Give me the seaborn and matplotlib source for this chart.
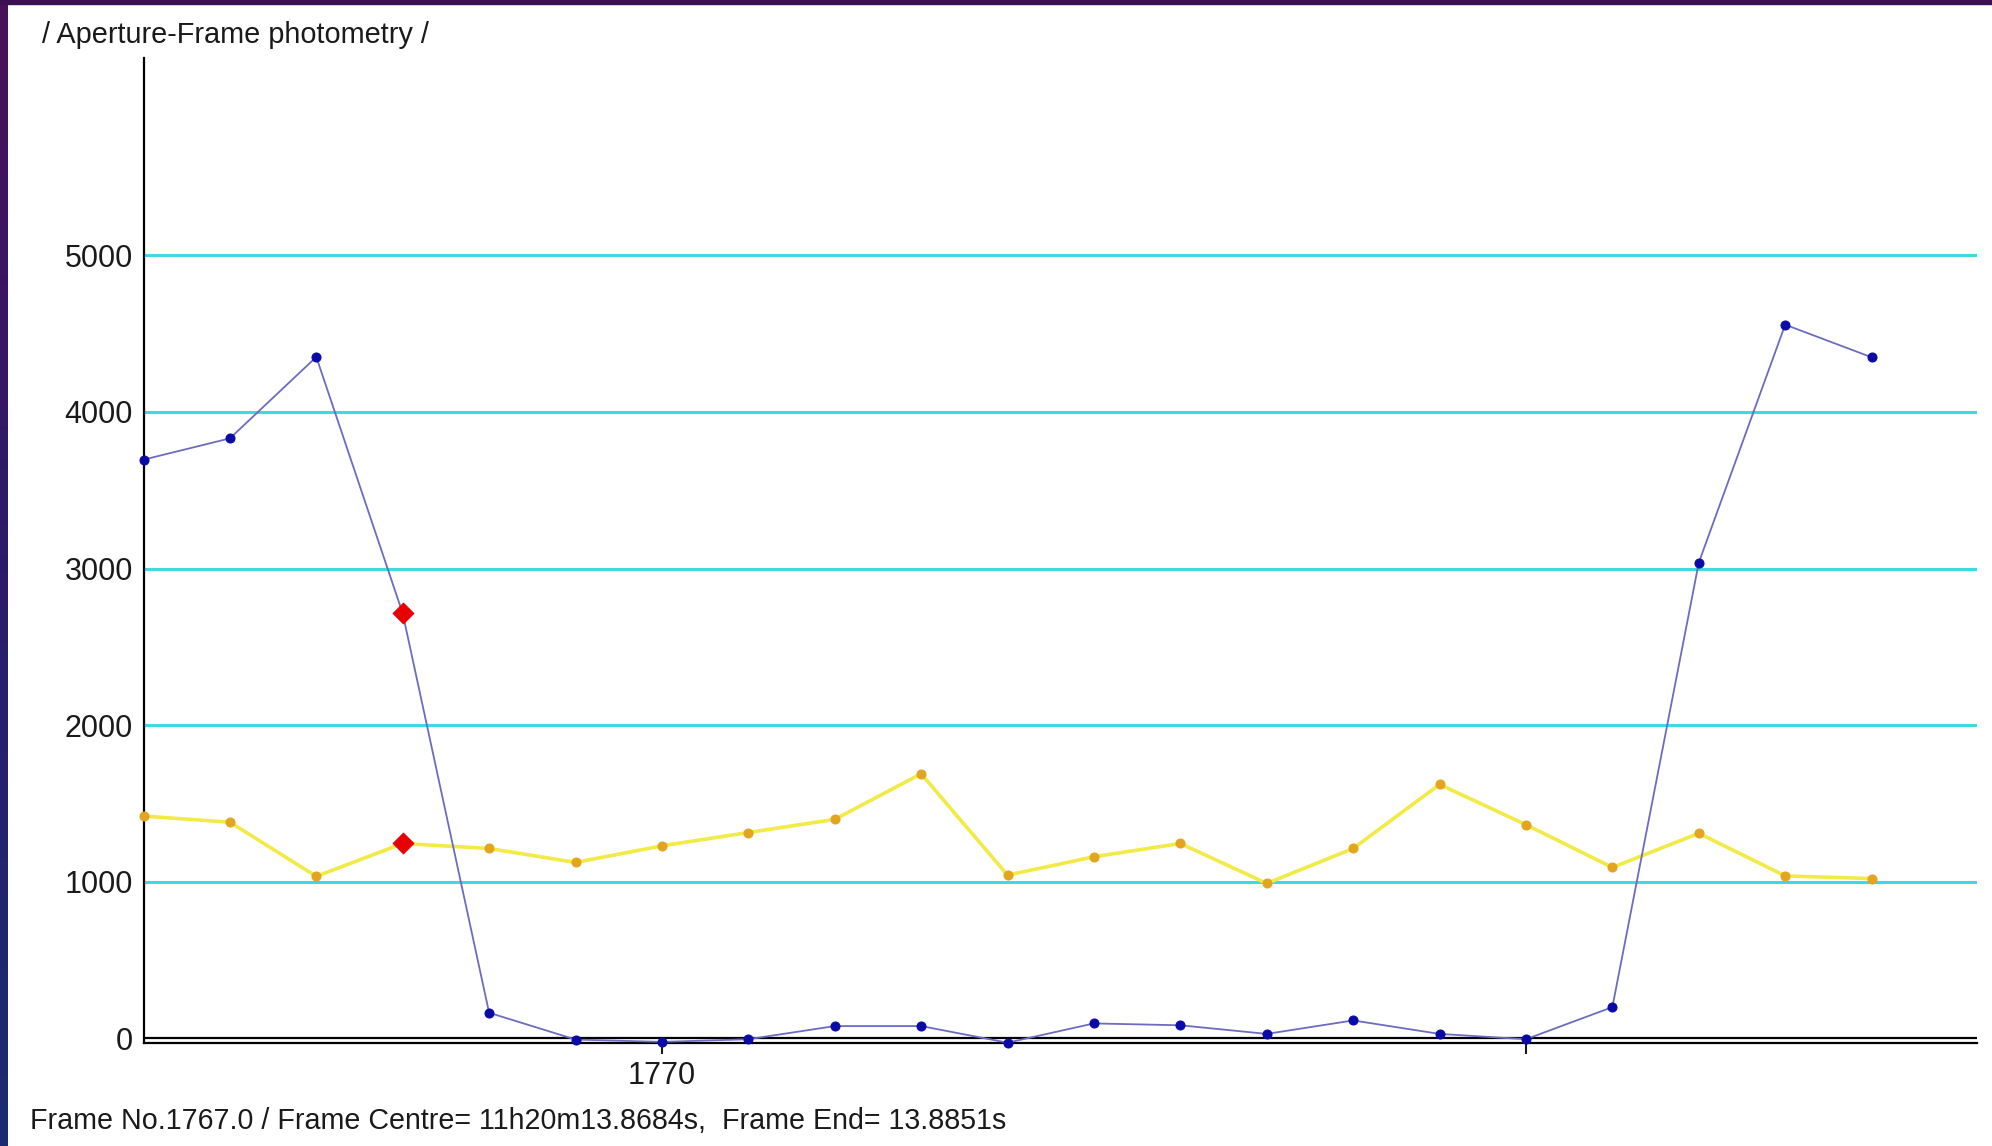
import numpy as np
import pandas as pd
import seaborn as sns
import matplotlib.pyplot as plt
from matplotlib.patches import Rectangle
from matplotlib.colors import LinearSegmentedColormap

# frame numbers and the two photometry series
frames = list(range(1764, 1785))
star_flux = [3695, 3831, 4351, 2713, 163, -8, -23, -6, 78, 78, -28,
             95, 83, 28, 114, 28, -6, 199, 3037, 4557, 4349]
comp_flux = [1419, 1380, 1034, 1244, 1212, 1123, 1229, 1314, 1398, 1689, 1042,
             1159, 1244, 989, 1212, 1621, 1364, 1091, 1309, 1037, 1020]
current_frame = 1767
grid_levels = [1000, 2000, 3000, 4000, 5000]
y_ticks = [0, 1000, 2000, 3000, 4000, 5000]
x_ticks = [1770, 1780]
x_tick_labels = ['1770', '']

title = '/ Aperture-Frame photometry /'
footer = 'Frame No.1767.0 / Frame Centre= 11h20m13.8684s,  Frame End= 13.8851s'

df = pd.DataFrame({'frame': frames, 'star': star_flux, 'comp': comp_flux})
cur = df[df['frame'] == current_frame]

sns.set_style('white')
plt.rcParams['font.family'] = ['Liberation Sans', 'DejaVu Sans']

W, H = 1992, 1146
fig = plt.figure(figsize=(W / 100, H / 100), dpi=100)
fig.patch.set_facecolor('white')

# window frame decoration (purple/blue border)
edge = fig.add_axes([0, 0, 8 / W, 1])
cmap = LinearSegmentedColormap.from_list('edge', ['#4a1058', '#2b1c68', '#1b2c70'])
edge.imshow(np.linspace(0, 1, 256).reshape(-1, 1), aspect='auto', cmap=cmap)
edge.axis('off')
fig.add_artist(Rectangle((0, 1 - 4 / H), 1, 4 / H, transform=fig.transFigure,
                         color='#3c0f52', zorder=10))

ax = fig.add_axes([143.5 / W, (H - 1043.3) / H, (1977 - 143.5) / W, (1043.3 - 58) / H])
ax.set_facecolor('white')

for lvl in grid_levels:
    ax.axhline(lvl, color='#3fd9e3', lw=2.2, zorder=1)
ax.axhline(0, color='black', lw=1.6, zorder=2)

sns.lineplot(data=df, x='frame', y='comp', ax=ax, color='#f2ea45', lw=2.6,
             marker='o', markersize=6.5, markerfacecolor='#e3a420',
             markeredgecolor='#e3a420', zorder=3, clip_on=False)
sns.lineplot(data=df, x='frame', y='star', ax=ax, color='#6c6cc0', lw=1.3,
             marker='o', markersize=6.5, markerfacecolor='#0a0aa8',
             markeredgecolor='#0a0aa8', zorder=4, clip_on=False)

# current frame highlighted in red on both curves
sns.scatterplot(x=list(cur['frame']) * 2, y=list(cur['star']) + list(cur['comp']),
                ax=ax, marker='D', s=110, color='#e80000', edgecolor='#e80000',
                zorder=5, clip_on=False)

ax.set_xlim(1764, 1785.22)
ax.set_ylim(-32, 6260)
ax.set_xticks(x_ticks)
ax.set_xticklabels(x_tick_labels)
ax.set_yticks(y_ticks)
ax.set_yticklabels([str(v) for v in y_ticks])
ax.set_xlabel('')
ax.set_ylabel('')
ax.tick_params(axis='x', direction='out', length=8, width=1.5, pad=5,
               labelsize=22, colors='#1a1a1a', bottom=True)
ax.tick_params(axis='y', length=0, pad=7.5, labelsize=22, colors='#1a1a1a')

for side in ['top', 'right']:
    ax.spines[side].set_visible(False)
for side in ['left', 'bottom']:
    ax.spines[side].set_color('black')
    ax.spines[side].set_linewidth(1.6)

fig.text(42 / W, 1 - 35 / H, title, ha='left', va='center', fontsize=20.8, color='#1a1a1a')
fig.text(30 / W, 1 - 1121 / H, footer, ha='left', va='center', fontsize=20.6, color='#1a1a1a')

fig.savefig('out.png', dpi=100)
